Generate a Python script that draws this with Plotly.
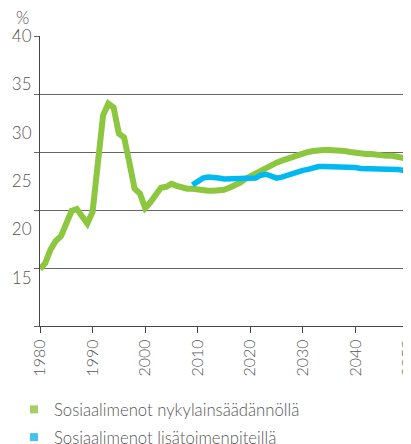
import plotly.graph_objects as go

years_green = list(range(1980, 2051))
green_values = [
    15.9, 16.5, 17.9, 18.8, 19.3, 20.6, 21.9, 22.1, 21.2, 20.6,
    21.8, 26.9, 31.8, 33.0, 32.6, 29.9, 29.5, 26.9, 24.2, 23.7,
    22.2, 22.8, 23.7, 24.3, 24.4, 24.7, 24.5, 24.3, 24.2, 24.2,
    24.1, 24.1, 24.0, 24.0, 24.0, 24.1, 24.3, 24.5, 24.8, 25.2,
    25.5, 25.8, 26.1, 26.3, 26.6, 26.9, 27.1, 27.3, 27.5, 27.6,
    27.9, 28.0, 28.1, 28.2, 28.2, 28.2, 28.2, 28.2, 28.1, 28.0,
    27.9, 27.9, 27.8, 27.8, 27.7, 27.6, 27.6, 27.6, 27.5, 27.4,
    27.3,
]
years_blue = list(range(2009, 2051))
blue_values = [
    24.6, 24.9, 25.3, 25.4, 25.4, 25.3, 25.2, 25.2, 25.2, 25.3,
    25.3, 25.3, 25.3, 25.6, 25.7, 25.5, 25.3, 25.4, 25.6, 25.7,
    25.9, 26.1, 26.2, 26.4, 26.5, 26.5, 26.5, 26.5, 26.5, 26.5,
    26.4, 26.4, 26.3, 26.3, 26.3, 26.3, 26.3, 26.2, 26.2, 26.2,
    26.1, 26.0,
]
x_ticks = [1980, 1990, 2000, 2010, 2020, 2030, 2040, 2050]
y_label_ticks = [15, 20, 25, 30, 35, 40]
y_grid_ticks = [10, 16, 22, 28, 34, 40]
series_names = ["Sosiaalimenot nykylainsäädännöllä", "Sosiaalimenot lisätoimenpiteillä"]

GREEN = "#8dc63f"
BLUE = "#00b9f2"
FONT = "Lato, Open Sans, sans-serif"
TXT = dict(family=FONT, color="#555555", size=16, weight=300)

fig = go.Figure()
fig.add_trace(go.Scatter(x=years_green, y=green_values, mode="lines",
                         line=dict(color=GREEN, width=6), showlegend=False))
fig.add_trace(go.Scatter(x=years_blue, y=blue_values, mode="lines",
                         line=dict(color=BLUE, width=5.5), showlegend=False))
# legend entries
fig.add_trace(go.Scatter(x=[None], y=[None], mode="markers", name=series_names[0],
                         legendgroup="a",
                         marker=dict(symbol="square", size=8, color="#a3cf63")))
fig.add_trace(go.Scatter(x=[None], y=[None], mode="markers", name=series_names[1],
                         legendgroup="b",
                         marker=dict(symbol="square", size=8, color="#45c3f0")))
# gridline axis
fig.add_trace(go.Scatter(x=[None], y=[None], yaxis="y2", showlegend=False))

# page body has an 8px default margin, so the figure is sized to fit the window
fig.update_layout(
    width=403, height=436,
    margin=dict(l=32, r=3, t=28, b=118, autoexpand=False),
    paper_bgcolor="white", plot_bgcolor="white",
    font=TXT,
    xaxis=dict(range=[1980, 2050], tickvals=x_ticks, ticks="outside", ticklen=6,
               tickcolor="#444", tickangle=-90, showgrid=False, zeroline=False,
               showline=True, linecolor="#444", linewidth=1, automargin=False,
               ticklabeloverflow="allow", tickfont=TXT),
    yaxis=dict(range=[10, 40], tickvals=y_label_ticks, ticks="", showgrid=False,
               zeroline=False, showline=True, linecolor="#444", linewidth=1,
               mirror=True, ticklabelstandoff=4, automargin=False,
               tickfont=dict(family=FONT, color="#555555", size=17, weight=300)),
    yaxis2=dict(range=[10, 40], tickvals=y_grid_ticks, overlaying="y", side="left",
                showgrid=True, gridcolor="#666", gridwidth=1, ticks="outside",
                ticklen=5, tickcolor="#666", showticklabels=False, zeroline=False,
                showline=False, automargin=False),
    legend=dict(x=-0.0707, y=-0.2276, xanchor="left", yanchor="top",
                font=dict(family=FONT, color="#555555", size=16.7, weight=300),
                bgcolor="rgba(0,0,0,0)", tracegroupgap=3),
    annotations=[dict(text="%", xref="paper", yref="paper", x=-0.0489, y=1.064,
                      xanchor="center", yanchor="middle", showarrow=False,
                      font=dict(family=FONT, color="#555555", size=17, weight=300))],
)

fig.write_html("out.html")
